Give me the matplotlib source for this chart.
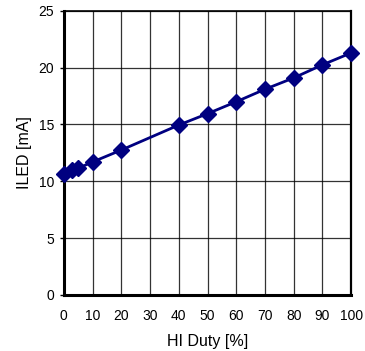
import matplotlib
matplotlib.use('Agg')
import matplotlib.pyplot as plt

plt.rcParams['font.family'] = ['Liberation Sans', 'DejaVu Sans']

# Datos
duty = [0, 3, 5, 10, 20, 40, 50, 60, 70, 80, 90, 100]
iled = [10.65, 10.95, 11.15, 11.7, 12.75, 14.95, 15.95, 17.0, 18.1, 19.1, 20.25, 21.3]
xticks = [0, 10, 20, 30, 40, 50, 60, 70, 80, 90, 100]
yticks = [0, 5, 10, 15, 20, 25]

fig = plt.figure(figsize=(3.65, 3.51), dpi=100)
ax = fig.add_axes([0.175, 0.160, 0.787, 0.809])

ax.plot(duty, iled, color='#000080', linewidth=2.0, marker='D',
        markersize=8, markerfacecolor='#000080', markeredgecolor='#000080',
        clip_on=False, zorder=3)

ax.set_xlim(0, 100)
ax.set_ylim(0, 25)
ax.set_xticks(xticks)
ax.set_yticks(yticks)
ax.grid(True, color='black', linewidth=0.9, alpha=0.8)
ax.set_axisbelow(True)

ax.spines['left'].set_linewidth(2.2)
ax.spines['bottom'].set_linewidth(2.2)
ax.spines['top'].set_linewidth(1.2)
ax.spines['right'].set_linewidth(1.6)

ax.tick_params(axis='x', length=0, pad=10, labelsize=10)
ax.tick_params(axis='y', length=3, width=1, pad=4, labelsize=10)

ax.set_xlabel('HI Duty [%]', fontsize=11.5, labelpad=8)
ax.set_ylabel('ILED [mA]', fontsize=11.5, labelpad=5)

fig.savefig('out.png', dpi=100)
